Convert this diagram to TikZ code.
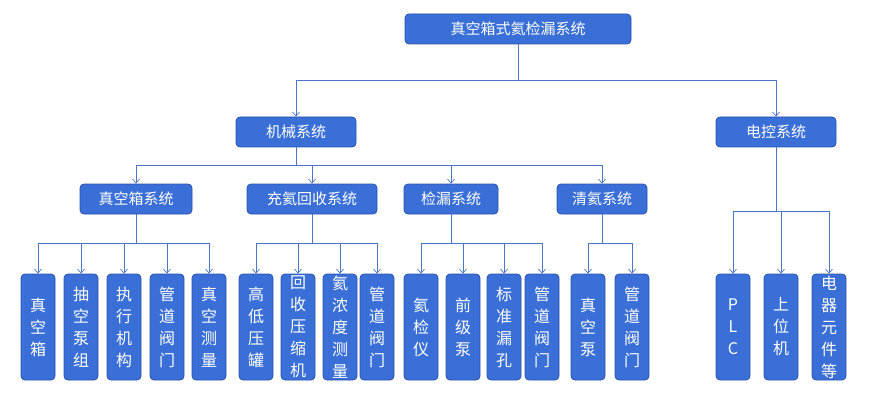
\documentclass[tikz,border=0pt]{standalone}
\usepackage{fontspec}
\setmainfont{Noto Sans CJK SC}
\usetikzlibrary{arrows.meta}
\definecolor{bx}{HTML}{3A6FD8}
\definecolor{bd}{HTML}{2A52A8}
\definecolor{ln}{HTML}{4A76C8}
\begin{document}
\begin{tikzpicture}[x=1pt,y=-1pt,
 box/.style={draw=bd,fill=bx,line width=0.8pt,rounded corners=4pt,text=white,inner sep=0pt,minimum height=30,font=\fontsize{15}{15}\selectfont},
 leaf/.style={draw=bd,fill=bx,line width=0.8pt,rounded corners=4pt,text=white,inner sep=0pt,minimum width=34,minimum height=106,align=center,font=\fontsize{16}{22}\selectfont},
 arr/.style={draw=ln,line width=0.7pt,-{Straight Barb[length=4pt,width=7pt]}}]
\useasboundingbox (0,0) rectangle (877,406);
\node[box,minimum width=226] (root) at (518,29) {真空箱式氦检漏系统};
\node[box,minimum width=120] (m) at (296,132) {机械系统};
\node[box,minimum width=120] (e) at (776,132) {电控系统};
\node[box,minimum width=112] (a) at (136,199) {真空箱系统};
\node[box,minimum width=130] (b) at (312,199) {充氦回收系统};
\node[box,minimum width=94] (c) at (451,199) {检漏系统};
\node[box,minimum width=90] (d) at (602,199) {清氦系统};
\node[leaf] (a1) at (38,327) {真\\空\\箱};
\node[leaf] (a2) at (81,327) {抽\\空\\泵\\组};
\node[leaf] (a3) at (124,327) {执\\行\\机\\构};
\node[leaf] (a4) at (167,327) {管\\道\\阀\\门};
\node[leaf] (a5) at (209,327) {真\\空\\测\\量};
\node[leaf] (b1) at (256,327) {高\\低\\压\\罐};
\node[leaf] (b2) at (298,327) {回\\收\\压\\缩\\机};
\node[leaf] (b3) at (340,327) {氦\\浓\\度\\测\\量};
\node[leaf] (b4) at (377,327) {管\\道\\阀\\门};
\node[leaf] (c1) at (421,327) {氦\\检\\仪};
\node[leaf] (c2) at (463,327) {前\\级\\泵};
\node[leaf] (c3) at (504,327) {标\\准\\漏\\孔};
\node[leaf] (c4) at (542,327) {管\\道\\阀\\门};
\node[leaf] (d1) at (588,327) {真\\空\\泵};
\node[leaf] (d2) at (632,327) {管\\道\\阀\\门};
\node[leaf] (e1) at (733,327) {P\\L\\C};
\node[leaf] (e2) at (781,327) {上\\位\\机};
\node[leaf] (e3) at (829,327) {电\\器\\元\\件\\等};
\coordinate (y1) at (0,80);
\coordinate (y2) at (0,165);
\coordinate (y3) at (0,243);
\coordinate (y4) at (0,211);
\foreach \t in {m,e} \draw[arr] (root.south) -- (root.south |- y1) -| (\t.north);
\foreach \t in {a,b,c,d} \draw[arr] (m.south) -- (m.south |- y2) -| (\t.north);
\foreach \t in {a1,a2,a3,a4,a5} \draw[arr] (a.south) -- (a.south |- y3) -| (\t.north);
\foreach \t in {b1,b2,b3,b4} \draw[arr] (b.south) -- (b.south |- y3) -| (\t.north);
\foreach \t in {c1,c2,c3,c4} \draw[arr] (c.south) -- (c.south |- y3) -| (\t.north);
\foreach \t in {d1,d2} \draw[arr] (d.south) -- (d.south |- y3) -| (\t.north);
\foreach \t in {e1,e2,e3} \draw[arr] (e.south) -- (e.south |- y4) -| (\t.north);
\end{tikzpicture}
\end{document}
